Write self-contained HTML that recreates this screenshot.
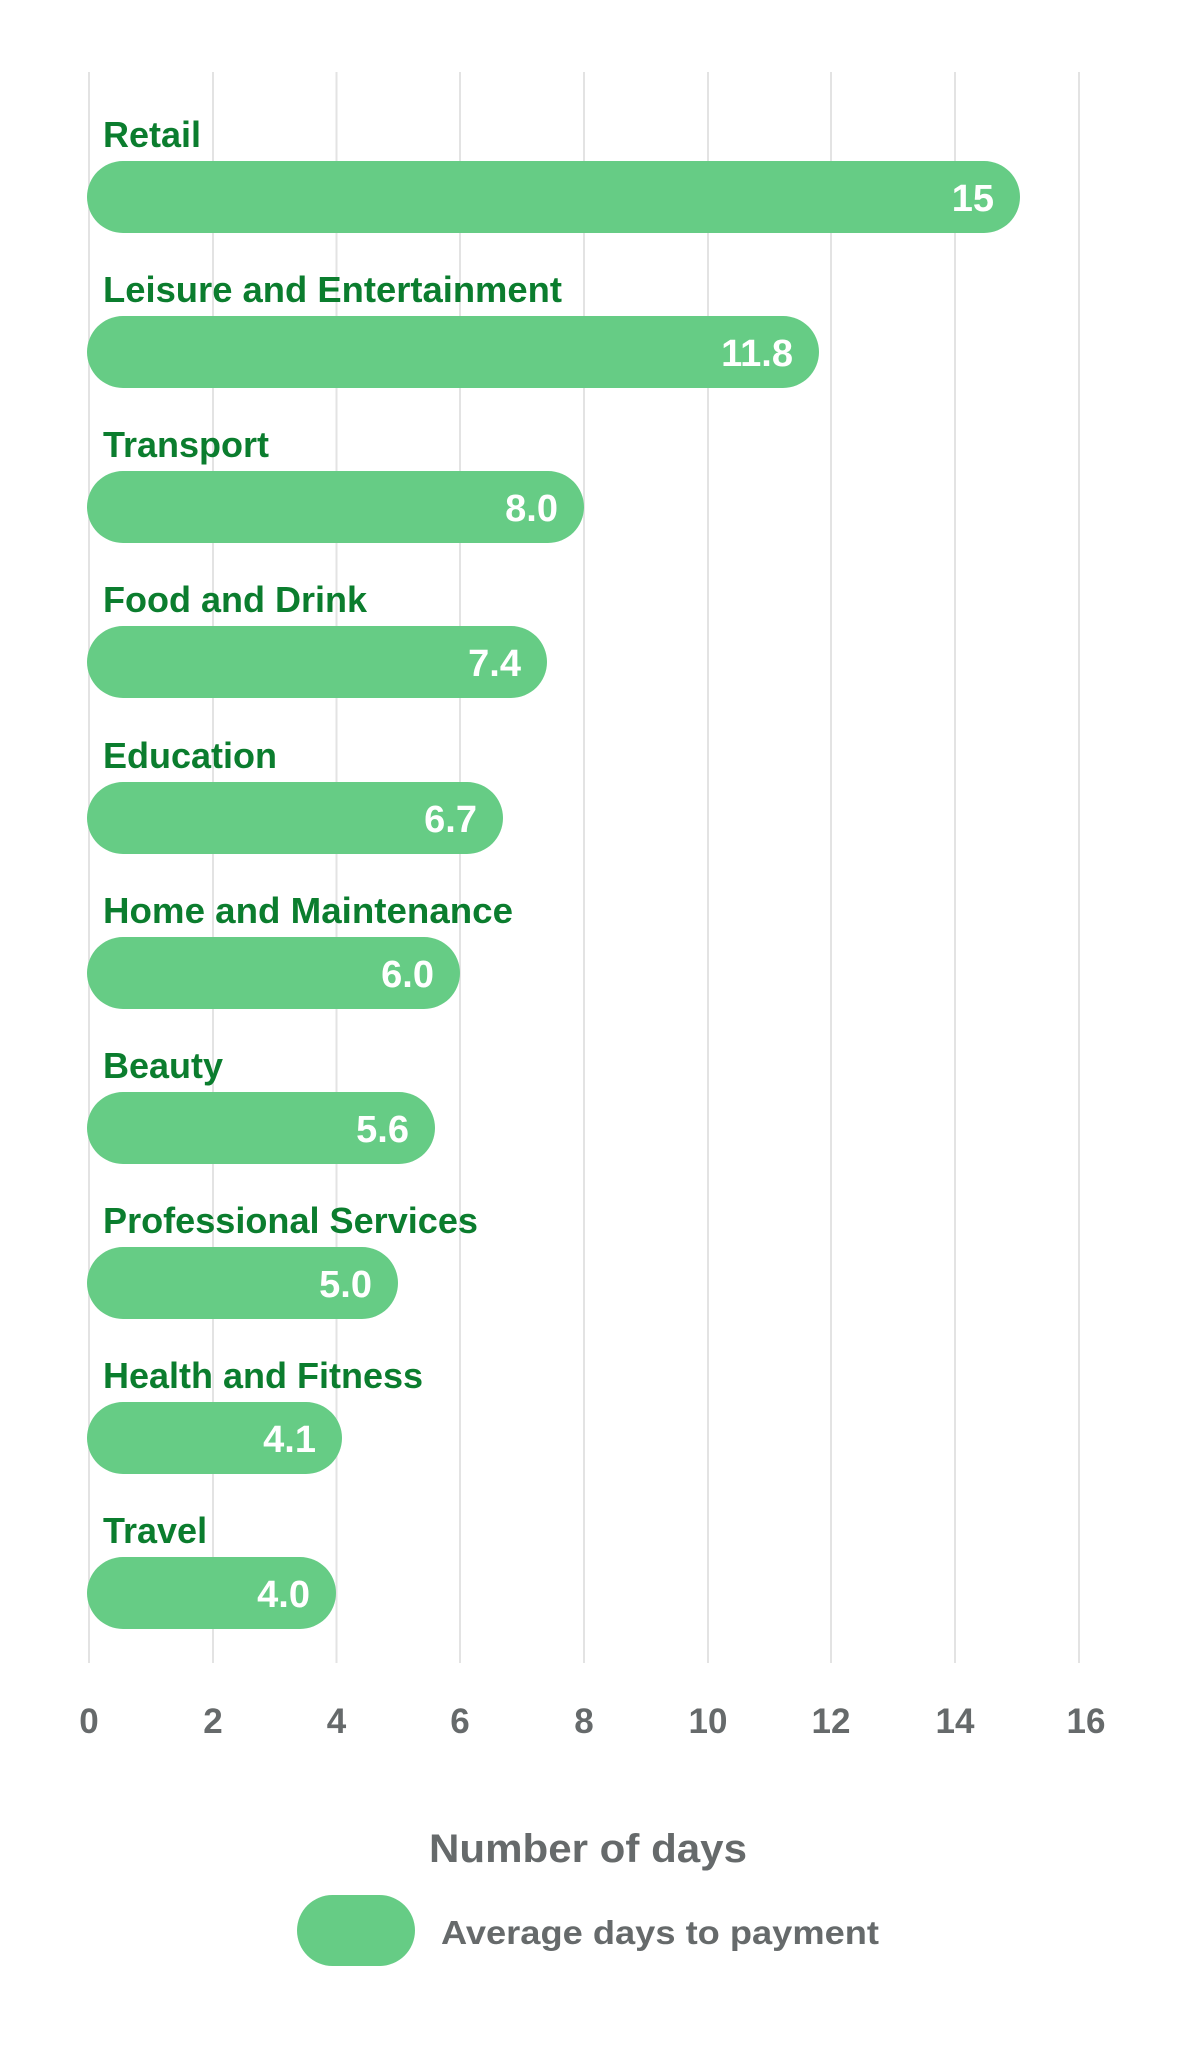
<!DOCTYPE html>
<html><head><meta charset="utf-8"><style>
html,body{margin:0;padding:0;background:#fff}
svg{display:block}
</style></head><body>
<svg width="1179" height="2064" viewBox="0 0 1179 2064" xmlns="http://www.w3.org/2000/svg">
<g stroke="#e3e3e3" stroke-width="2">
<line x1="89" y1="72" x2="89" y2="1663"/>
<line x1="213" y1="72" x2="213" y2="1663"/>
<line x1="336.5" y1="72" x2="336.5" y2="1663"/>
<line x1="460" y1="72" x2="460" y2="1663"/>
<line x1="584" y1="72" x2="584" y2="1663"/>
<line x1="708" y1="72" x2="708" y2="1663"/>
<line x1="831" y1="72" x2="831" y2="1663"/>
<line x1="955" y1="72" x2="955" y2="1663"/>
<line x1="1079" y1="72" x2="1079" y2="1663"/>
</g>
<g font-family="Liberation Sans, sans-serif" font-weight="bold">
<g fill="#66cc85">
<rect x="87" y="161" width="933" height="72" rx="36"/>
<rect x="87" y="316" width="732" height="72" rx="36"/>
<rect x="87" y="471" width="497" height="72" rx="36"/>
<rect x="87" y="626" width="460" height="72" rx="36"/>
<rect x="87" y="782" width="416" height="72" rx="36"/>
<rect x="87" y="937" width="373" height="72" rx="36"/>
<rect x="87" y="1092" width="348" height="72" rx="36"/>
<rect x="87" y="1247" width="311" height="72" rx="36"/>
<rect x="87" y="1402" width="255" height="72" rx="36"/>
<rect x="87" y="1557" width="249" height="72" rx="36"/>
</g>
<g fill="#0b7d2e" font-size="36">
<text x="103" y="147">Retail</text>
<text x="103" y="302" textLength="459" lengthAdjust="spacingAndGlyphs">Leisure and Entertainment</text>
<text x="103" y="457">Transport</text>
<text x="103" y="612">Food and Drink</text>
<text x="103" y="768">Education</text>
<text x="103" y="923" textLength="410" lengthAdjust="spacingAndGlyphs">Home and Maintenance</text>
<text x="103" y="1078">Beauty</text>
<text x="103" y="1233" textLength="375" lengthAdjust="spacingAndGlyphs">Professional Services</text>
<text x="103" y="1388">Health and Fitness</text>
<text x="103" y="1543">Travel</text>
</g>
<g fill="#fff" font-size="38" text-anchor="end">
<text x="994" y="211">15</text>
<text x="793" y="366">11.8</text>
<text x="558" y="521">8.0</text>
<text x="521" y="676">7.4</text>
<text x="477" y="832">6.7</text>
<text x="434" y="987">6.0</text>
<text x="409" y="1142">5.6</text>
<text x="372" y="1297">5.0</text>
<text x="316" y="1452">4.1</text>
<text x="310" y="1607">4.0</text>
</g>
<g fill="#666a6b" font-size="35" text-anchor="middle">
<text x="89" y="1733">0</text>
<text x="213" y="1733">2</text>
<text x="336.5" y="1733">4</text>
<text x="460" y="1733">6</text>
<text x="584" y="1733">8</text>
<text x="708" y="1733">10</text>
<text x="831" y="1733">12</text>
<text x="955" y="1733">14</text>
<text x="1086" y="1733">16</text>
</g>
<text x="429" y="1862" fill="#666a6b" font-size="40" textLength="318" lengthAdjust="spacingAndGlyphs">Number of days</text>
<rect x="297" y="1895" width="118" height="71" rx="35.5" fill="#66cc85"/>
<text x="441" y="1944" fill="#666a6b" font-size="33" textLength="438" lengthAdjust="spacingAndGlyphs">Average days to payment</text>
</g>
</svg>
</body></html>
